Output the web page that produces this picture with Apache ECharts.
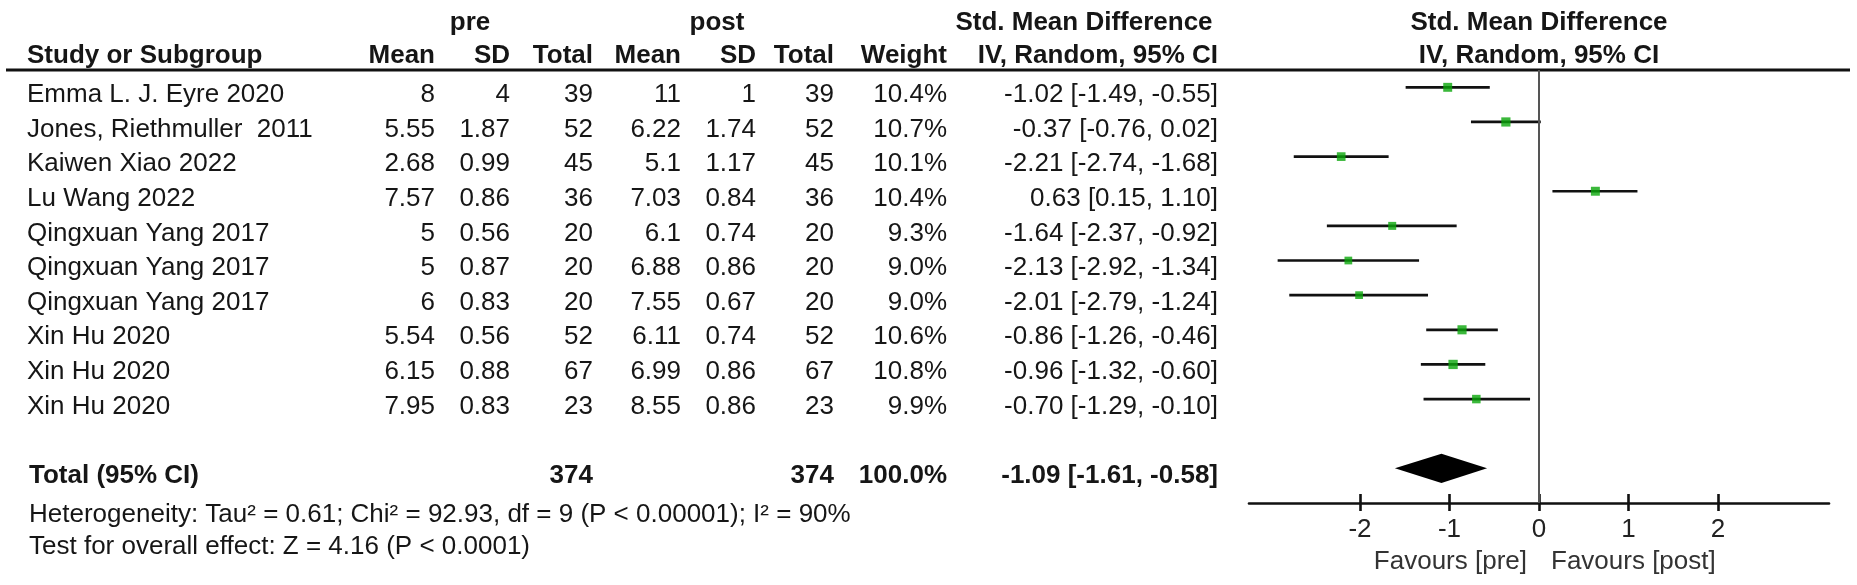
<!DOCTYPE html>
<html><head><meta charset="utf-8">
<script src="https://cdn.jsdelivr.net/npm/echarts@6/dist/echarts.min.js"></script>
<style>html,body{margin:0;padding:0;background:#fff}#c{width:1857px;height:585px}</style>
</head><body><div id="c"></div>
<script>
// ---------- data ----------
const studies = ["Emma L. J. Eyre 2020", "Jones, Riethmuller  2011", "Kaiwen Xiao 2022", "Lu Wang 2022",
  "Qingxuan Yang 2017", "Qingxuan Yang 2017", "Qingxuan Yang 2017", "Xin Hu 2020", "Xin Hu 2020", "Xin Hu 2020"];
const preMean = ["8", "5.55", "2.68", "7.57", "5", "5", "6", "5.54", "6.15", "7.95"];
const preSD = ["4", "1.87", "0.99", "0.86", "0.56", "0.87", "0.83", "0.56", "0.88", "0.83"];
const preN = [39, 52, 45, 36, 20, 20, 20, 52, 67, 23];
const postMean = ["11", "6.22", "5.1", "7.03", "6.1", "6.88", "7.55", "6.11", "6.99", "8.55"];
const postSD = ["1", "1.74", "1.17", "0.84", "0.74", "0.86", "0.67", "0.74", "0.86", "0.86"];
const postN = [39, 52, 45, 36, 20, 20, 20, 52, 67, 23];
const weights = [10.4, 10.7, 10.1, 10.4, 9.3, 9.0, 9.0, 10.6, 10.8, 9.9];
const smd = [-1.02, -0.37, -2.21, 0.63, -1.64, -2.13, -2.01, -0.86, -0.96, -0.70];
const ciLow = [-1.49, -0.76, -2.74, 0.15, -2.37, -2.92, -2.79, -1.26, -1.32, -1.29];
const ciHigh = [-0.55, 0.02, -1.68, 1.10, -0.92, -1.34, -1.24, -0.46, -0.60, -0.10];
const totalPreN = 374, totalPostN = 374, totalWeight = 100.0;
const totalSmd = -1.09, totalLow = -1.61, totalHigh = -0.58;
const xTicks = [-2, -1, 0, 1, 2];
const heterogeneityText = "Heterogeneity: Tau\u00b2 = 0.61; Chi\u00b2 = 92.93, df = 9 (P < 0.00001); I\u00b2 = 90%";
const overallText = "Test for overall effect: Z = 4.16 (P < 0.0001)";
const favoursLeft = "Favours [pre]", favoursRight = "Favours [post]";

// ---------- chart ----------
const FONT = '"Liberation Sans", Arial, sans-serif';
const FS = 26;
const TXT = '#161616';
const totalRow = studies.length + 1;
const chart = echarts.init(document.getElementById('c'), null, {renderer: 'canvas'});

const ciData = studies.map((s, i) => [ciLow[i], ciHigh[i], i]);
const ptData = studies.map((s, i) => [smd[i], i, weights[i]]);

const option = {
  animation: false,
  backgroundColor: '#fff',
  grid: {left: 1249, right: 28, top: 70, height: 433},
  xAxis: [
    {type: 'value', min: -3.24, max: 3.24, position: 'bottom',
      axisLine: {show: true, onZero: false, lineStyle: {color: '#111', width: 2.6}},
      axisTick: {show: true, customValues: xTicks, length: 8, lineStyle: {color: '#111', width: 2.6}},
      axisLabel: {customValues: xTicks, fontSize: FS, fontFamily: FONT, color: '#222', margin: 14},
      splitLine: {show: false}},
    {type: 'value', min: -3.24, max: 3.24, position: 'bottom',
      axisLine: {show: false, onZero: false},
      axisTick: {show: true, inside: true, customValues: xTicks, length: 9, lineStyle: {color: '#111', width: 2.6}},
      axisLabel: {show: false}, splitLine: {show: false}}
  ],
  yAxis: {type: 'value', inverse: true, min: -0.5, max: 12, show: false},
  series: [
    {type: 'custom', name: 'ci', data: ciData,
      renderItem: (params, api) => {
        const a = api.coord([api.value(0), api.value(2)]);
        const b = api.coord([api.value(1), api.value(2)]);
        return {type: 'line', shape: {x1: a[0], y1: a[1], x2: b[0], y2: b[1]},
          style: {stroke: '#111', lineWidth: 2.7}};
      },
      markLine: {silent: true, symbol: 'none', animation: false,
        label: {show: false},
        lineStyle: {color: '#555', width: 2, type: 'solid'},
        data: [{xAxis: 0}]},
      z: 3},
    {type: 'scatter', name: 'smd', data: ptData, symbol: 'rect',
      symbolSize: v => v[2] * 0.86,
      itemStyle: {color: '#0aa60a'}, z: 4},
    {type: 'custom', name: 'total', data: [[totalSmd, totalLow, totalHigh, totalRow]],
      renderItem: (params, api) => {
        const row = api.value(3);
        const c = api.coord([api.value(0), row]);
        const l = api.coord([api.value(1), row]);
        const r = api.coord([api.value(2), row]);
        const h = 14.7;
        return {type: 'polygon', shape: {points: [[l[0], c[1]], [c[0], c[1] - h], [r[0], c[1]], [c[0], c[1] + h]]},
          style: {fill: '#000'}};
      }, z: 4}
  ]
};
chart.setOption(option);

// ---------- table text, positioned from the y scale ----------
const rowY = i => chart.convertToPixel({yAxisIndex: 0}, i);
const zeroX = chart.convertToPixel({xAxisIndex: 0}, 0);
function T(text, x, y, align, bold, color) {
  return {type: 'text', x: x, y: y, silent: true,
    style: {text: text, x: 0, y: 0, textAlign: align, textVerticalAlign: 'middle',
      font: (bold ? 'bold ' : '') + FS + 'px ' + FONT, fill: color || TXT}};
}
const cols = {name: 27, preMean: 435, preSD: 510, preN: 593, postMean: 681, postSD: 756, postN: 834, weight: 947, ci: 1218};
const fmtCI = (e, l, h) => e.toFixed(2) + ' [' + l.toFixed(2) + ', ' + h.toFixed(2) + ']';
const els = [];
const y0 = rowY(0);
const h1 = y0 - 64, h2 = y0 - 31;
els.push(T('pre', 470, h1, 'center', true));
els.push(T('post', 717, h1, 'center', true));
els.push(T('Std. Mean Difference', 1084, h1, 'center', true));
els.push(T('Std. Mean Difference', zeroX, h1, 'center', true));
els.push(T('Study or Subgroup', cols.name, h2, 'left', true));
els.push(T('Mean', cols.preMean, h2, 'right', true));
els.push(T('SD', cols.preSD, h2, 'right', true));
els.push(T('Total', cols.preN, h2, 'right', true));
els.push(T('Mean', cols.postMean, h2, 'right', true));
els.push(T('SD', cols.postSD, h2, 'right', true));
els.push(T('Total', cols.postN, h2, 'right', true));
els.push(T('Weight', cols.weight, h2, 'right', true));
els.push(T('IV, Random, 95% CI', cols.ci, h2, 'right', true));
els.push(T('IV, Random, 95% CI', zeroX, h2, 'center', true));
studies.forEach((s, i) => {
  const y = rowY(i) + 7.5;
  els.push(T(s, cols.name, y, 'left'));
  els.push(T(preMean[i], cols.preMean, y, 'right'));
  els.push(T(preSD[i], cols.preSD, y, 'right'));
  els.push(T(String(preN[i]), cols.preN, y, 'right'));
  els.push(T(postMean[i], cols.postMean, y, 'right'));
  els.push(T(postSD[i], cols.postSD, y, 'right'));
  els.push(T(String(postN[i]), cols.postN, y, 'right'));
  els.push(T(weights[i].toFixed(1) + '%', cols.weight, y, 'right'));
  els.push(T(fmtCI(smd[i], ciLow[i], ciHigh[i]), cols.ci, y, 'right'));
});
const yt = rowY(totalRow) + 7.5;
els.push(T('Total (95% CI)', cols.name + 2, yt, 'left', true));
els.push(T(String(totalPreN), cols.preN, yt, 'right', true));
els.push(T(String(totalPostN), cols.postN, yt, 'right', true));
els.push(T(totalWeight.toFixed(1) + '%', cols.weight, yt, 'right', true));
els.push(T(fmtCI(totalSmd, totalLow, totalHigh), cols.ci, yt, 'right', true));
els.push(T(heterogeneityText, cols.name + 2, yt + 39, 'left'));
els.push(T(overallText, cols.name + 2, yt + 71, 'left'));
els.push(T(favoursLeft, zeroX - 12, yt + 86, 'right', false, '#333'));
els.push(T(favoursRight, zeroX + 12, yt + 86, 'left', false, '#333'));
// header rule across the table
els.push({type: 'line', silent: true, shape: {x1: 6, y1: 70, x2: 1850, y2: 70}, style: {stroke: '#111', lineWidth: 3}});
chart.setOption({graphic: {elements: els}});
</script>
</body></html>
